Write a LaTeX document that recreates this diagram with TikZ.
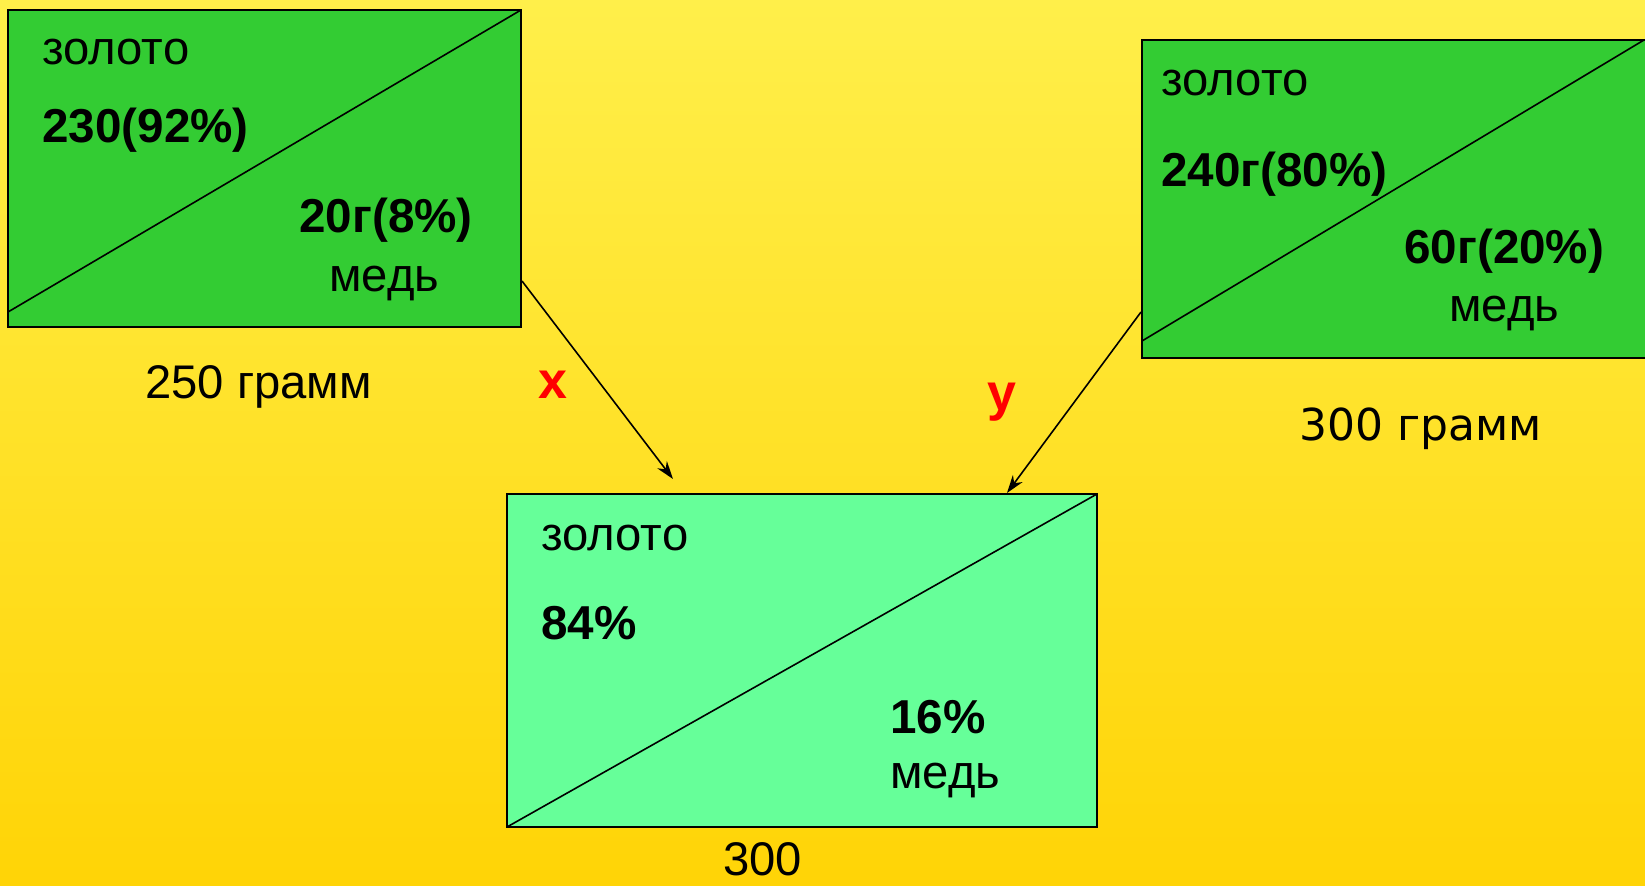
\documentclass[tikz,border=0pt]{standalone}
\usepackage{fontspec}
\setmainfont{Liberation Sans}
\newfontfamily\comicfont{DejaVu Sans}
\usetikzlibrary{arrows.meta}
\definecolor{bgtop}{HTML}{FFEF4A}
\definecolor{bgbot}{HTML}{FFD406}
\definecolor{darkgreen}{HTML}{33CC33}
\definecolor{lightgreen}{HTML}{66FF99}
\definecolor{labelred}{HTML}{FF0000}
\tikzset{
  alloybox/.style={draw=black, line width=1pt},
  txt/.style={inner sep=0pt, anchor=base west, font=\fontsize{23.6}{28}\selectfont},
  btxt/.style={txt, font=\fontsize{23.8}{28}\selectfont\bfseries},
  varlabel/.style={inner sep=0pt, text=labelred, font=\fontsize{26}{30}\selectfont\bfseries},
  feed/.style={-{Stealth[length=9pt,width=6pt]}, line width=0.8pt},
}
\begin{document}
\begin{tikzpicture}[x=0.5pt,y=-0.5pt]
\shade[top color=bgtop, bottom color=bgbot] (0,0) rectangle (1645,886);
\useasboundingbox (0,0) rectangle (1645,886);

% box 1
\filldraw[alloybox, fill=darkgreen] (8,10) rectangle (521,327);
\coordinate (b1ne) at (521,10);
\coordinate (b1sw) at (8,312);
\draw[line width=0.8pt] (b1sw) -- (b1ne);
\node[txt] (g1) at (42,65) {золото};
\node[btxt] (g1v) at (42,143) {230(92\%)};
\node[btxt] (c1v) at (299,233) {20г(8\%)};
\node[txt] (c1) at (329,292) {медь};
\node[txt] (m1) at (145,399) {250 грамм};

% box 2
\filldraw[alloybox, fill=darkgreen] (1142,40) rectangle (1650,358);
\coordinate (b2ne) at (1644,40);
\coordinate (b2sw) at (1142,341);
\draw[line width=0.8pt] (b2sw) -- (b2ne);
\node[txt] (g2) at (1161,96) {золото};
\node[btxt] (g2v) at (1161,187) {240г(80\%)};
\node[btxt] (c2v) at (1404,264) {60г(20\%)};
\node[txt] (c2) at (1449,322) {медь};
\node[txt, font=\comicfont\fontsize{22}{26}\selectfont] (m2) at (1299,441) {300 грамм};

% box 3
\filldraw[alloybox, fill=lightgreen] (507,494) rectangle (1097,827);
\coordinate (b3ne) at (1097,494);
\coordinate (b3sw) at (507,827);
\draw[line width=0.8pt] (b3sw) -- (b3ne);
\node[txt] (g3) at (541,551) {золото};
\node[btxt] (g3v) at (541,640) {84\%};
\node[btxt] (c3v) at (890,734) {16\%};
\node[txt] (c3) at (890,789) {медь};
\node[txt] (m3) at (723,876) {300};

% connectors
\coordinate (xs) at (522,281);
\coordinate (xe) at (673,479);
\coordinate (ys) at (1141,312);
\coordinate (ye) at (1007,493);
\draw[feed] (xs) -- (xe);
\draw[feed] (ys) -- (ye);
\node[varlabel] (lx) at (553,385) {x};
\node[varlabel] (ly) at (1002,402) {y};
\end{tikzpicture}
\end{document}
